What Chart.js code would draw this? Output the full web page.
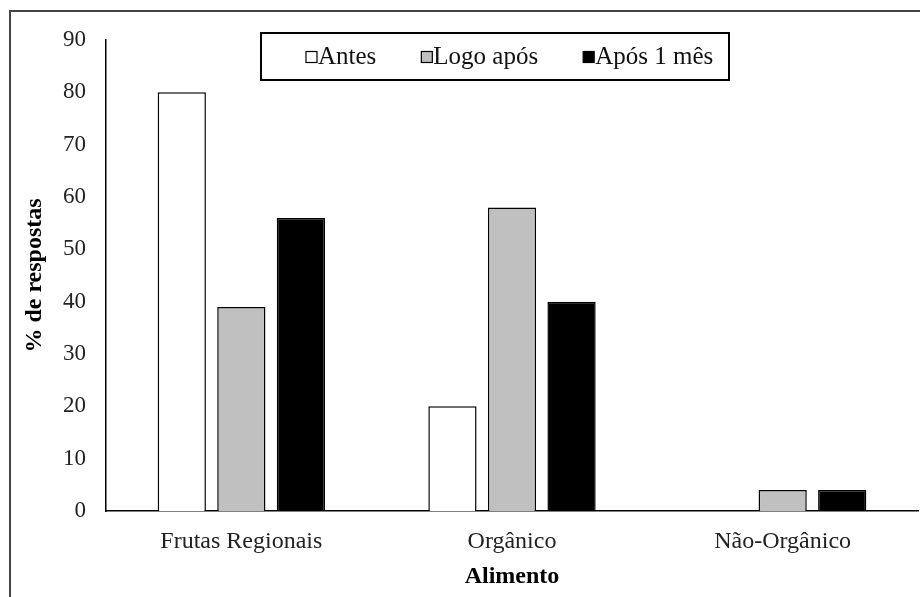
<!DOCTYPE html>
<html lang="pt">
<head>
  <meta charset="UTF-8">
  <title>% de respostas por alimento</title>
  <style>
    body { margin: 0; padding: 0; background: #fff; }
    #wrap { position: relative; width: 920px; height: 597px; }
  </style>
</head>
<body>
  <div id="wrap"><canvas id="chart"></canvas></div>

  <script src="https://cdn.jsdelivr.net/npm/chart.js"></script>
  <script>
    const categories = ['Frutas Regionais', 'Orgânico', 'Não-Orgânico'];
    const seriesNames = ['Antes', 'Logo após', 'Após 1 mês'];
    const antes = [80, 20, 0];
    const logoApos = [39, 58, 4];
    const aposUmMes = [56, 40, 4];
    const yTicks = [0, 10, 20, 30, 40, 50, 60, 70, 80, 90];

    const fills = ['#ffffff', '#c0c0c0', '#000000'];
    const serif = '"Liberation Serif", "Times New Roman", serif';

    // frame round the picture (left and top only, like the scan)
    const framePlugin = {
      id: 'frame',
      beforeDraw(chart) {
        const ctx = chart.ctx;
        ctx.save();
        ctx.fillStyle = '#fff';
        ctx.fillRect(0, 0, chart.width, chart.height);
        ctx.strokeStyle = '#444';
        ctx.lineWidth = 2;
        ctx.beginPath();
        ctx.moveTo(10, chart.height);
        ctx.lineTo(10, 11);
        ctx.lineTo(chart.width, 11);
        ctx.stroke();
        ctx.restore();
      }
    };

    // boxed legend drawn inside the plot, at the top
    const boxLegend = {
      id: 'boxLegend',
      afterDraw(chart) {
        const ctx = chart.ctx;
        const box = { x: 261, y: 33, w: 468, h: 47 };
        ctx.save();
        ctx.fillStyle = '#fff';
        ctx.fillRect(box.x, box.y, box.w, box.h);
        ctx.strokeStyle = '#000';
        ctx.lineWidth = 2;
        ctx.strokeRect(box.x, box.y, box.w, box.h);

        ctx.font = '25px ' + serif;
        ctx.textBaseline = 'middle';
        const midY = box.y + box.h / 2;
        let x = 306;
        chart.data.datasets.forEach(ds => {
          ctx.fillStyle = ds.backgroundColor;
          ctx.fillRect(x, midY - 5, 11, 11);
          ctx.strokeStyle = '#000';
          ctx.lineWidth = 1.2;
          ctx.strokeRect(x, midY - 5, 11, 11);
          ctx.fillStyle = '#111';
          ctx.fillText(ds.label, x + 12, midY + 1);
          x += 12 + ctx.measureText(ds.label).width + 45;
        });
        ctx.restore();
      }
    };

    const seriesValues = [antes, logoApos, aposUmMes];

    new Chart(document.getElementById('chart'), {
      type: 'bar',
      data: {
        labels: categories,
        datasets: seriesNames.map((name, i) => ({
          label: name,
          data: seriesValues[i],
          backgroundColor: fills[i],
          borderColor: '#000',
          borderWidth: 1.5,
          categoryPercentage: 0.66,
          barPercentage: 0.81
        }))
      },
      options: {
        responsive: true,
        maintainAspectRatio: false,
        animation: false,
        layout: { padding: { left: 10, top: 40, right: 2, bottom: 0 } },
        plugins: {
          legend: { display: false },
          tooltip: { enabled: false }
        },
        scales: {
          x: {
            grid: { display: false, drawTicks: false },
            border: { display: true, color: '#000', width: 1.5 },
            ticks: { color: '#222', padding: 16, font: { family: serif, size: 24 } },
            title: {
              display: true, text: 'Alimento', color: '#000',
              font: { family: serif, size: 24, weight: 'bold' },
              padding: { top: 0, bottom: 6 }
            },
            afterFit(scale) { scale.height = 86; }
          },
          y: {
            min: 0, max: 90,
            afterBuildTicks(scale) { scale.ticks = yTicks.map(v => ({ value: v })); },
            grid: { display: false, drawTicks: false },
            border: { display: true, color: '#000', width: 1.5 },
            ticks: { color: '#222', padding: 20, font: { family: serif, size: 23 } },
            title: {
              display: true, text: '% de respostas', color: '#000',
              font: { family: serif, size: 24, weight: 'bold' },
              padding: { top: 10, bottom: 0 }
            },
            afterFit(scale) { scale.width = 96; }
          }
        }
      },
      plugins: [framePlugin, boxLegend]
    });
  </script>
</body>
</html>
